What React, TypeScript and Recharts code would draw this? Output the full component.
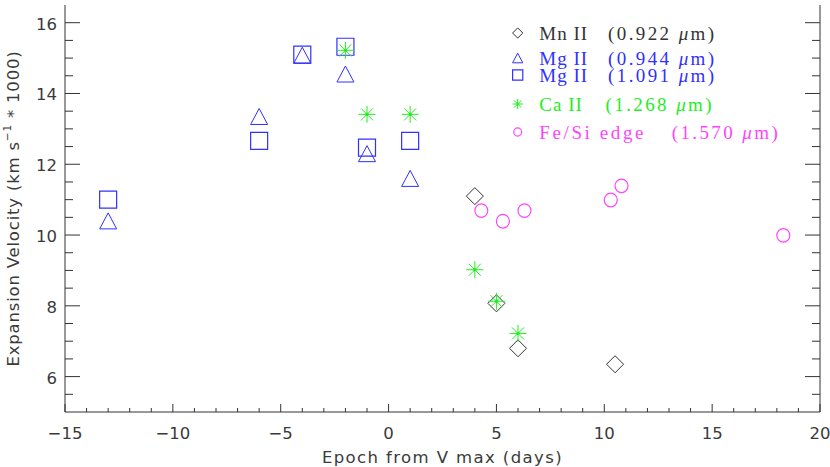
import React from 'react';
import { ScatterChart, Scatter, XAxis, YAxis, Legend, Label } from 'recharts';

// ---------- data ----------
const mnX = [4, 5, 6, 10.5];
const mnV = [11.1, 8.07, 6.8, 6.35];

const mg944X = [-13, -6, -4, -2, -1, 1];
const mg944V = [10.4, 13.35, 15.08, 14.55, 12.3, 11.6];

const mg1091X = [-13, -6, -4, -2, -1, 1];
const mg1091V = [11.0, 12.66, 15.1, 15.32, 12.47, 12.66];

const caX = [-2, -1, 1, 4, 5, 6];
const caV = [15.22, 13.41, 13.41, 9.02, 8.13, 7.22];

const feX = [4.3, 5.3, 6.3, 10.3, 10.8, 18.3];
const feV = [10.69, 10.39, 10.69, 10.99, 11.39, 9.99];

const xTicks = [-15, -14, -13, -12, -11, -10, -9, -8, -7, -6, -5, -4, -3, -2, -1, 0, 1, 2, 3, 4, 5, 6, 7, 8, 9, 10, 11, 12, 13, 14, 15, 16, 17, 18, 19, 20];
const xMajor = [-15, -10, -5, 0, 5, 10, 15, 20];
const xMajorLabels = ['\u221215', '\u221210', '\u22125', '0', '5', '10', '15', '20'];

const yTicks = [5.5, 6, 6.5, 7, 7.5, 8, 8.5, 9, 9.5, 10, 10.5, 11, 11.5, 12, 12.5, 13, 13.5, 14, 14.5, 15, 15.5, 16];
const yMajor = [6, 8, 10, 12, 14, 16];
const yMajorLabels = ['6', '8', '10', '12', '14', '16'];

const legendNames = ['Mn II', 'Mg II', 'Mg II', 'Ca II', 'Fe/Si edge'];
const legendWaves = ['(0.922 ', '(0.944 ', '(1.091 ', '(1.268 ', '(1.570 '];

const zip = (xs: number[], vs: number[]) => xs.map((x, i) => ({ x, y: vs[i] }));

// ---------- styles ----------
const AX = '#333';
const TXT = '#3a3a3a';
const FONT = 'DejaVu Sans';
const BLACK = '#333333';
const BLUE = '#3030ff';
const GREEN = '#22ee22';
const MAGENTA = '#ff44ff';
const COLORS = [BLACK, BLUE, BLUE, GREEN, MAGENTA];

// ---------- marker shapes ----------
const diamondPath = (cx: number, cy: number, s: number) =>
  `M${cx},${cy - s}L${cx + s},${cy}L${cx},${cy + s}L${cx - s},${cy}Z`;
const trianglePath = (cx: number, cy: number, w: number, h: number) =>
  `M${cx},${cy - h / 2}L${cx + w / 2},${cy + h / 2}L${cx - w / 2},${cy + h / 2}Z`;
const squarePath = (cx: number, cy: number, s: number) =>
  `M${cx - s},${cy - s}L${cx + s},${cy - s}L${cx + s},${cy + s}L${cx - s},${cy + s}Z`;

const Marker = ({ kind, cx, cy, scale = 1 }: { kind: number; cx: number; cy: number; scale?: number }) => {
  const c = COLORS[kind];
  if (kind === 0) return <path d={diamondPath(cx, cy, 8.5 * scale)} fill="none" stroke={c} strokeWidth={1} />;
  if (kind === 1) return <path d={trianglePath(cx, cy, 17 * scale, 16 * scale)} fill="none" stroke={c} strokeWidth={1} />;
  if (kind === 2) return <path d={squarePath(cx, cy, 8.5 * scale)} fill="none" stroke={c} strokeWidth={1.2} />;
  if (kind === 3) {
    const r = 8.5 * scale;
    const d = r * 0.7071;
    return (
      <g stroke={c} strokeWidth={1}>
        <line x1={cx - r} y1={cy} x2={cx + r} y2={cy} />
        <line x1={cx} y1={cy - r} x2={cx} y2={cy + r} />
        <line x1={cx - d} y1={cy - d} x2={cx + d} y2={cy + d} />
        <line x1={cx - d} y1={cy + d} x2={cx + d} y2={cy - d} />
        <circle cx={cx} cy={cy} r={1.3 * scale} fill={c} />
      </g>
    );
  }
  return <ellipse cx={cx} cy={cy} rx={6.5 * scale} ry={6.8 * scale} fill="none" stroke={c} strokeWidth={1.2} />;
};

const shapeFor = (kind: number) => (p: any) => <Marker kind={kind} cx={p.cx} cy={p.cy} />;

// ---------- custom ticks ----------
const bottomTick = (props: any) => {
  const { x, y, payload } = props;
  const idx = xMajor.indexOf(payload.value);
  const major = idx >= 0;
  return (
    <g>
      <line x1={x} x2={x} y1={y} y2={y - (major ? 8 : 4)} stroke={AX} strokeWidth={1} />
      {major && (
        <text x={x} y={y + 27} textAnchor="middle" fontFamily={FONT} fontSize={16.5} fill={TXT}>
          {xMajorLabels[idx]}
        </text>
      )}
    </g>
  );
};
const topTick = (props: any) => {
  const { x, y, payload } = props;
  const major = xMajor.indexOf(payload.value) >= 0;
  return <line x1={x} x2={x} y1={y} y2={y + (major ? 8 : 4)} stroke={AX} strokeWidth={1} />;
};
const leftTick = (props: any) => {
  const { x, y, payload } = props;
  const idx = yMajor.indexOf(payload.value);
  const major = idx >= 0;
  return (
    <g>
      <line x1={x} x2={x + (major ? 15 : 8)} y1={y} y2={y} stroke={AX} strokeWidth={1} />
      {major && (
        <text x={x - 8} y={y + 7} textAnchor="end" fontFamily={FONT} fontSize={16.5} fill={TXT}>
          {yMajorLabels[idx]}
        </text>
      )}
    </g>
  );
};
const rightTick = (props: any) => {
  const { x, y, payload } = props;
  const major = yMajor.indexOf(payload.value) >= 0;
  return <line x1={x} x2={x - (major ? 15 : 8)} y1={y} y2={y} stroke={AX} strokeWidth={1} />;
};

// ---------- titles ----------
const YTitle = (props: any) => {
  const vb = props.viewBox || { x: 0, y: 5, width: 65, height: 407 };
  const cx = 13;
  const cy = vb.y + vb.height / 2;
  return (
    <text
      x={cx}
      y={cy}
      transform={`rotate(-90, ${cx}, ${cy})`}
      textAnchor="middle"
      dominantBaseline="central"
      fontFamily={FONT}
      fontSize={16.5}
      letterSpacing={0.8}
      fill={TXT}
    >
      Expansion Velocity (km s
      <tspan dy={-6} fontSize={10.5}>{'\u22121'}</tspan>
      <tspan dy={6}>{'  * 1000)'}</tspan>
    </text>
  );
};
const XTitle = (props: any) => {
  const vb = props.viewBox || { x: 65, y: 412, width: 755, height: 55 };
  return (
    <text
      x={vb.x + vb.width / 2}
      y={463}
      textAnchor="middle"
      fontFamily={FONT}
      fontSize={16.5}
      letterSpacing={1.4}
      fill={TXT}
    >
      Epoch from V max (days)
    </text>
  );
};

// ---------- legend ----------
const rowY = [23, 48, 65, 94, 122];
const parenX = [108, 108, 108, 105.5, 171.7];
const renderLegend = () => (
  <svg width={320} height={140} style={{ display: 'block' }}>
    {legendNames.map((name, i) => (
      <g key={i}>
        <Marker kind={i} cx={17.7} cy={rowY[i]} scale={i === 4 ? 0.6 : 0.6} />
        <text y={rowY[i] + 6.5} fontFamily="Liberation Serif" fontSize={19} fill={COLORS[i]}>
          <tspan x={39.3} letterSpacing={i === 4 ? 2.6 : 1}>{name}</tspan>
          <tspan x={parenX[i]} letterSpacing={2.4}>{legendWaves[i]}</tspan>
          <tspan fontStyle="italic" letterSpacing={2.4}>{'\u03bc'}</tspan>
          <tspan letterSpacing={2.4}>{'m)'}</tspan>
        </text>
      </g>
    ))}
  </svg>
);

export default function App() {
  return (
    <div style={{ position: 'absolute', left: 0, top: 0, width: 830, height: 467, background: '#fff' }}>
      <ScatterChart width={830} height={467} margin={{ top: 5, right: 0, bottom: 0, left: 0 }}>
        <XAxis
          xAxisId="b"
          type="number"
          dataKey="x"
          domain={[-15, 20]}
          ticks={xTicks}
          interval={0}
          orientation="bottom"
          height={55}
          tickSize={0}
          tickMargin={0}
          tickLine={false}
          tick={bottomTick}
          axisLine={{ stroke: AX, strokeWidth: 1 }}
          allowDataOverflow
        >
          <Label content={XTitle} />
        </XAxis>
        <XAxis
          xAxisId="t"
          type="number"
          dataKey="x"
          domain={[-15, 20]}
          ticks={xTicks}
          interval={0}
          orientation="top"
          height={0}
          tickSize={0}
          tickMargin={0}
          tickLine={false}
          tick={topTick}
          axisLine={{ stroke: AX, strokeWidth: 1 }}
          allowDataOverflow
        />
        <YAxis
          yAxisId="l"
          type="number"
          dataKey="y"
          domain={[5, 16.5]}
          ticks={yTicks}
          interval={0}
          orientation="left"
          width={65}
          tickSize={0}
          tickMargin={0}
          tickLine={false}
          tick={leftTick}
          axisLine={{ stroke: AX, strokeWidth: 1 }}
          allowDataOverflow
        >
          <Label content={YTitle} />
        </YAxis>
        <YAxis
          yAxisId="r"
          type="number"
          dataKey="y"
          domain={[5, 16.5]}
          ticks={yTicks}
          interval={0}
          orientation="right"
          width={10}
          tickSize={0}
          tickMargin={0}
          tickLine={false}
          tick={rightTick}
          axisLine={{ stroke: AX, strokeWidth: 1 }}
          allowDataOverflow
        />
        <Legend
          layout="vertical"
          align="center"
          verticalAlign="middle"
          content={renderLegend}
          wrapperStyle={{ position: 'absolute', left: 500, top: 10, width: 320, height: 140 }}
        />
        <Scatter name="Mn II" data={zip(mnX, mnV)} xAxisId="b" yAxisId="l" shape={shapeFor(0)} isAnimationActive={false} />
        <Scatter name="Mg II 0.944" data={zip(mg944X, mg944V)} xAxisId="b" yAxisId="l" shape={shapeFor(1)} isAnimationActive={false} />
        <Scatter name="Mg II 1.091" data={zip(mg1091X, mg1091V)} xAxisId="b" yAxisId="l" shape={shapeFor(2)} isAnimationActive={false} />
        <Scatter name="Ca II" data={zip(caX, caV)} xAxisId="b" yAxisId="l" shape={shapeFor(3)} isAnimationActive={false} />
        <Scatter name="Fe/Si edge" data={zip(feX, feV)} xAxisId="b" yAxisId="l" shape={shapeFor(4)} isAnimationActive={false} />
      </ScatterChart>
    </div>
  );
}
